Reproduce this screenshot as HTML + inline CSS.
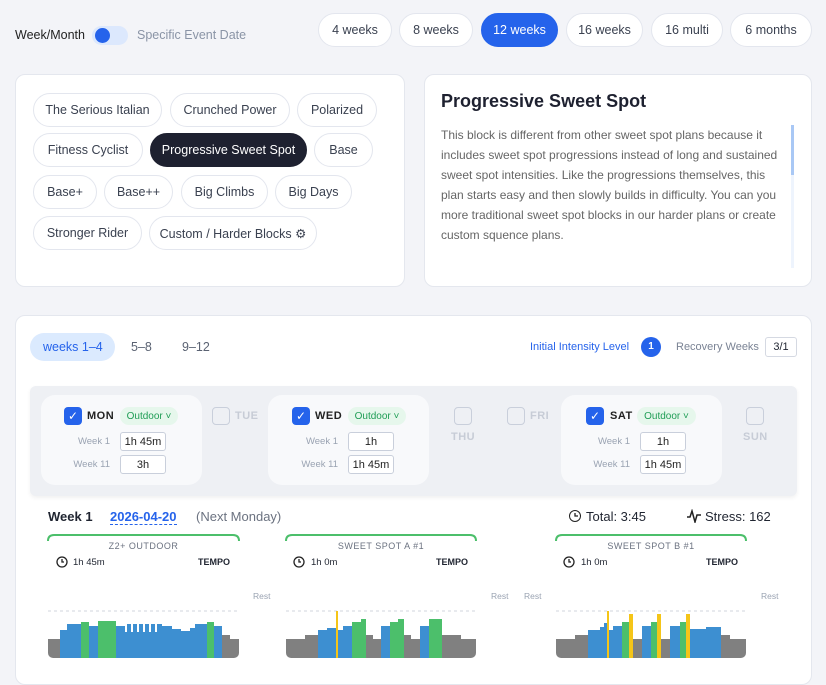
<!DOCTYPE html>
<html><head><meta charset="utf-8"><style>
*{box-sizing:border-box;margin:0;padding:0}
body{width:826px;height:667px;overflow:hidden;background:#f3f4f8;font-family:"Liberation Sans",sans-serif;position:relative;color:#1f2430}
.a{position:absolute;white-space:nowrap}
.pill{position:absolute;height:34px;border:1px solid #e3e6ee;background:#fff;border-radius:17px;font-size:12.5px;color:#3a4150;display:flex;align-items:center;justify-content:center}
.card{position:absolute;background:#fff;border:1px solid #e4e7ee;border-radius:10px}
.cb{position:absolute;width:18px;height:18px;border-radius:4px;background:#2563eb;color:#fff;font-size:12px;display:flex;align-items:center;justify-content:center}
.ucb{position:absolute;width:18px;height:18px;border-radius:4px;border:1.5px solid #c9cfdb;background:#eef0f4}
.day{position:absolute;background:#f8f9fb;border-radius:14px}
.out{position:absolute;height:18px;border-radius:9px;background:#e6f7ec;color:#1f9d55;font-size:10px;display:flex;align-items:center;justify-content:center}
.inp{position:absolute;height:19px;border:1px solid #c9cfdb;border-radius:3px;background:#fff;font-size:11px;display:flex;align-items:center;justify-content:center;color:#222}
.lbl{position:absolute;font-size:9.5px;color:#9aa3b2;text-align:right;width:50px}
.dn{position:absolute;font-size:11px;font-weight:bold;color:#222;letter-spacing:.5px}
.gd{position:absolute;font-size:11px;font-weight:bold;color:#c7ccd6;letter-spacing:.5px}
.wt{position:absolute;font-size:9px;color:#6b7280;letter-spacing:.5px;text-align:center}
.rest{position:absolute;font-size:8.5px;color:#9aa3b2}
</style></head><body>
<div class="a" style="left:15px;top:28px;font-size:12.5px;color:#222">Week/Month</div>
<div class="a" style="left:92px;top:26px;width:36px;height:19px;border-radius:10px;background:#dce8fd"></div>
<div class="a" style="left:95px;top:28px;width:15px;height:15px;border-radius:50%;background:#2563eb"></div>
<div class="a" style="left:137px;top:28px;font-size:12.5px;color:#8a94a6">Specific Event Date</div>
<div class="pill" style="left:318px;top:13px;width:74px">4 weeks</div>
<div class="pill" style="left:399px;top:13px;width:74px">8 weeks</div>
<div class="pill" style="left:481px;top:13px;width:77px;background:#2563eb;border-color:#2563eb;color:#fff">12 weeks</div>
<div class="pill" style="left:566px;top:13px;width:77px">16 weeks</div>
<div class="pill" style="left:651px;top:13px;width:72px">16 multi</div>
<div class="pill" style="left:730px;top:13px;width:82px">6 months</div>

<div class="card" style="left:15px;top:74px;width:390px;height:213px"></div>
<div class="pill" style="left:33px;top:93px;width:129px">The Serious Italian</div>
<div class="pill" style="left:170px;top:93px;width:120px">Crunched Power</div>
<div class="pill" style="left:297px;top:93px;width:80px">Polarized</div>
<div class="pill" style="left:33px;top:133px;width:110px">Fitness Cyclist</div>
<div class="pill" style="left:150px;top:133px;width:157px;background:#1e2130;border-color:#1e2130;color:#fff">Progressive Sweet Spot</div>
<div class="pill" style="left:314px;top:133px;width:59px">Base</div>
<div class="pill" style="left:33px;top:175px;width:64px">Base+</div>
<div class="pill" style="left:104px;top:175px;width:69px">Base++</div>
<div class="pill" style="left:181px;top:175px;width:87px">Big Climbs</div>
<div class="pill" style="left:275px;top:175px;width:77px">Big Days</div>
<div class="pill" style="left:33px;top:216px;width:109px">Stronger Rider</div>
<div class="pill" style="left:149px;top:216px;width:168px">Custom / Harder Blocks ⚙</div>

<div class="card" style="left:424px;top:74px;width:388px;height:213px"></div>
<div class="a" style="left:441px;top:91px;font-size:18px;font-weight:bold;color:#1e2130">Progressive Sweet Spot</div>
<div class="a" style="left:441px;top:125px;width:345px;white-space:normal;font-size:12px;line-height:20px;color:#666">This block is different from other sweet spot plans because it includes sweet spot progressions instead of long and sustained sweet spot intensities. Like the progressions themselves, this plan starts easy and then slowly builds in difficulty. You can you more traditional sweet spot blocks in our harder plans or create custom squence plans.</div>
<div class="a" style="left:791px;top:125px;width:3px;height:143px;background:#eef4fd"></div>
<div class="a" style="left:791px;top:125px;width:3px;height:50px;background:#a9c8f5"></div>

<div class="card" style="left:15px;top:315px;width:797px;height:370px"></div>
<div class="a" style="left:30px;top:333px;width:85px;height:28px;border-radius:14px;background:#dbeafe"></div>
<div class="a" style="left:43px;top:340px;font-size:12.5px;color:#2563eb">weeks 1–4</div>
<div class="a" style="left:131px;top:340px;font-size:12.5px;color:#5a6272">5–8</div>
<div class="a" style="left:182px;top:340px;font-size:12.5px;color:#5a6272">9–12</div>
<div class="a" style="left:530px;top:341px;font-size:11px;color:#2563eb">Initial Intensity Level</div>
<div class="a" style="left:641px;top:337px;width:20px;height:20px;border-radius:50%;background:#2563eb;color:#fff;font-size:10px;font-weight:bold;text-align:center;line-height:20px">1</div>
<div class="a" style="left:676px;top:341px;font-size:11px;color:#7a8394">Recovery Weeks</div>
<div class="a" style="left:765px;top:337px;width:32px;height:20px;border:1px solid #d5d9e2;border-radius:3px;font-size:11px;text-align:center;line-height:18px">3/1</div>

<div class="a" style="left:30px;top:386px;width:767px;height:110px;background:#eef0f4;border-radius:6px;box-shadow:0 2px 4px rgba(0,0,0,.06)"></div>
<div class="day" style="left:41px;top:395px;width:161px;height:90px"></div>
<div class="day" style="left:268px;top:395px;width:161px;height:90px"></div>
<div class="day" style="left:561px;top:395px;width:161px;height:90px"></div>

<div class="cb" style="left:64px;top:407px">✓</div><div class="dn" style="left:87px;top:410px">MON</div>
<div class="out" style="left:120px;top:407px;width:58px">Outdoor ˅</div>
<div class="lbl" style="left:60px;top:436px">Week 1</div><div class="inp" style="left:120px;top:432px;width:46px">1h 45m</div>
<div class="lbl" style="left:60px;top:459px">Week 11</div><div class="inp" style="left:120px;top:455px;width:46px">3h</div>

<div class="ucb" style="left:212px;top:407px"></div><div class="gd" style="left:235px;top:410px">TUE</div>

<div class="cb" style="left:292px;top:407px">✓</div><div class="dn" style="left:315px;top:410px">WED</div>
<div class="out" style="left:348px;top:407px;width:58px">Outdoor ˅</div>
<div class="lbl" style="left:288px;top:436px">Week 1</div><div class="inp" style="left:348px;top:432px;width:46px">1h</div>
<div class="lbl" style="left:288px;top:459px">Week 11</div><div class="inp" style="left:348px;top:455px;width:46px">1h 45m</div>

<div class="ucb" style="left:454px;top:407px"></div><div class="gd" style="left:451px;top:431px">THU</div>
<div class="ucb" style="left:507px;top:407px"></div><div class="gd" style="left:530px;top:410px">FRI</div>

<div class="cb" style="left:586px;top:407px">✓</div><div class="dn" style="left:610px;top:410px">SAT</div>
<div class="out" style="left:637px;top:407px;width:59px">Outdoor ˅</div>
<div class="lbl" style="left:580px;top:436px">Week 1</div><div class="inp" style="left:640px;top:432px;width:46px">1h</div>
<div class="lbl" style="left:580px;top:459px">Week 11</div><div class="inp" style="left:640px;top:455px;width:46px">1h 45m</div>

<div class="ucb" style="left:746px;top:407px"></div><div class="gd" style="left:743px;top:431px">SUN</div>

<div class="a" style="left:48px;top:509px;font-size:13px;font-weight:bold">Week 1</div>
<div class="a" style="left:110px;top:509px;font-size:13px;color:#2563eb;font-weight:bold;border-bottom:1px dashed #2563eb;line-height:15px">2026-04-20</div>
<div class="a" style="left:196px;top:509px;font-size:13px;color:#6b7280">(Next Monday)</div>
<div class="a" style="left:569px;top:510px;width:12px;height:12px;border:1.5px solid #222;border-radius:50%"></div>
<div class="a" style="left:586px;top:509px;font-size:13px">Total: 3:45</div>
<svg class="a" style="left:686px;top:509px" width="16" height="14"><polyline points="1,8 4,8 6,2 9,13 11,6 15,6" fill="none" stroke="#222" stroke-width="1.5"/></svg>
<div class="a" style="left:705px;top:509px;font-size:13px">Stress: 162</div>

<div class="wt" style="left:48px;top:541px;width:191px">Z2+ OUTDOOR</div>
<div class="wt" style="left:286px;top:541px;width:190px">SWEET SPOT A #1</div>
<div class="wt" style="left:556px;top:541px;width:190px">SWEET SPOT B #1</div>
<div class="a" style="left:73px;top:557px;font-size:9.5px">1h 45m</div>
<div class="a" style="left:311px;top:557px;font-size:9.5px">1h 0m</div>
<div class="a" style="left:581px;top:557px;font-size:9.5px">1h 0m</div>
<div class="a" style="left:198px;top:557px;font-size:9px;font-weight:bold">TEMPO</div>
<div class="a" style="left:436px;top:557px;font-size:9px;font-weight:bold">TEMPO</div>
<div class="a" style="left:706px;top:557px;font-size:9px;font-weight:bold">TEMPO</div>
<div class="rest" style="left:253px;top:591px">Rest</div>
<div class="rest" style="left:491px;top:591px">Rest</div>
<div class="rest" style="left:524px;top:591px">Rest</div>
<div class="rest" style="left:761px;top:591px">Rest</div>

<svg class="a" style="left:0;top:0" width="826" height="667">
<g fill="none" stroke="#4cbf6b" stroke-width="2">
<path d="M48,541 Q48,535 54,535 L233,535 Q239,535 239,541"/>
<path d="M286,541 Q286,535 292,535 L470,535 Q476,535 476,541"/>
<path d="M556,541 Q556,535 562,535 L740,535 Q746,535 746,541"/>
</g>
<g fill="none" stroke="#222" stroke-width="1.3">
<circle cx="62" cy="562" r="5"/><path d="M62,559 V562 H64"/>
<circle cx="299" cy="562" r="5"/><path d="M299,559 V562 H301"/>
<circle cx="569" cy="562" r="5"/><path d="M569,559 V562 H571"/>
<path d="M575,513 V516 H578"/>
</g>
<g stroke="#d0d4dc" stroke-dasharray="3,3"><line x1="48" y1="611" x2="239" y2="611"/><line x1="286" y1="611" x2="476" y2="611"/><line x1="556" y1="611" x2="746" y2="611"/></g>
<defs>
<clipPath id="c1"><rect x="48" y="600" width="191" height="58" rx="5"/></clipPath>
<clipPath id="c2"><rect x="286" y="600" width="190" height="58" rx="5"/></clipPath>
<clipPath id="c3"><rect x="556" y="600" width="190" height="58" rx="5"/></clipPath>
</defs>
<g clip-path="url(#c1)">
<rect x="48" y="639" width="12" height="30" fill="#808080"/>
<rect x="60" y="630" width="7" height="40" fill="#3d8fd1"/>
<rect x="67" y="624" width="14" height="40" fill="#3d8fd1"/>
<rect x="81" y="622" width="8" height="40" fill="#4cbf6b"/>
<rect x="89" y="626" width="9" height="40" fill="#3d8fd1"/>
<rect x="98" y="621" width="18" height="40" fill="#4cbf6b"/>
<rect x="116" y="626" width="9" height="40" fill="#3d8fd1"/>
<rect x="125" y="632" width="37" height="40" fill="#3d8fd1"/>
<rect x="127" y="624" width="4" height="10" fill="#3d8fd1"/><rect x="133" y="624" width="4" height="10" fill="#3d8fd1"/><rect x="139" y="624" width="4" height="10" fill="#3d8fd1"/><rect x="145" y="624" width="4" height="10" fill="#3d8fd1"/><rect x="151" y="624" width="4" height="10" fill="#3d8fd1"/><rect x="157" y="624" width="5" height="10" fill="#3d8fd1"/>
<rect x="162" y="626" width="10" height="40" fill="#3d8fd1"/>
<rect x="172" y="629" width="9" height="40" fill="#3d8fd1"/>
<rect x="181" y="631" width="9" height="40" fill="#3d8fd1"/>
<rect x="190" y="628" width="5" height="40" fill="#3d8fd1"/>
<rect x="195" y="624" width="12" height="40" fill="#3d8fd1"/>
<rect x="207" y="622" width="7" height="40" fill="#4cbf6b"/>
<rect x="214" y="626" width="8" height="40" fill="#3d8fd1"/>
<rect x="222" y="635" width="8" height="40" fill="#808080"/>
<rect x="230" y="639" width="9" height="40" fill="#808080"/>
</g>
<g clip-path="url(#c2)">
<rect x="286" y="639" width="19" height="30" fill="#808080"/>
<rect x="305" y="635" width="13" height="30" fill="#808080"/>
<rect x="318" y="630" width="9" height="40" fill="#3d8fd1"/>
<rect x="327" y="628" width="9" height="40" fill="#3d8fd1"/>
<rect x="336" y="611" width="2" height="50" fill="#f5c518"/>
<rect x="338" y="630" width="5" height="40" fill="#3d8fd1"/>
<rect x="343" y="626" width="9" height="40" fill="#3d8fd1"/>
<rect x="352" y="622" width="9" height="40" fill="#4cbf6b"/>
<rect x="361" y="619" width="5" height="40" fill="#4cbf6b"/>
<rect x="366" y="635" width="7" height="40" fill="#808080"/>
<rect x="373" y="639" width="8" height="40" fill="#808080"/>
<rect x="381" y="626" width="9" height="40" fill="#3d8fd1"/>
<rect x="390" y="622" width="8" height="40" fill="#4cbf6b"/>
<rect x="398" y="619" width="6" height="40" fill="#4cbf6b"/>
<rect x="404" y="635" width="7" height="40" fill="#808080"/>
<rect x="411" y="639" width="9" height="40" fill="#808080"/>
<rect x="420" y="626" width="9" height="40" fill="#3d8fd1"/>
<rect x="429" y="619" width="13" height="40" fill="#4cbf6b"/>
<rect x="442" y="635" width="19" height="40" fill="#808080"/>
<rect x="461" y="639" width="15" height="40" fill="#808080"/>
</g>
<g clip-path="url(#c3)">
<rect x="556" y="639" width="19" height="30" fill="#808080"/>
<rect x="575" y="635" width="13" height="30" fill="#808080"/>
<rect x="588" y="630" width="12" height="40" fill="#3d8fd1"/>
<rect x="600" y="627" width="4" height="40" fill="#3d8fd1"/>
<rect x="604" y="623" width="3" height="40" fill="#3d8fd1"/>
<rect x="607" y="611" width="2" height="50" fill="#f5c518"/>
<rect x="609" y="630" width="4" height="40" fill="#3d8fd1"/>
<rect x="613" y="626" width="9" height="40" fill="#3d8fd1"/>
<rect x="622" y="622" width="7" height="40" fill="#4cbf6b"/>
<rect x="629" y="614" width="4" height="50" fill="#f5c518"/>
<rect x="633" y="639" width="9" height="40" fill="#808080"/>
<rect x="642" y="626" width="9" height="40" fill="#3d8fd1"/>
<rect x="651" y="622" width="6" height="40" fill="#4cbf6b"/>
<rect x="657" y="614" width="4" height="50" fill="#f5c518"/>
<rect x="661" y="639" width="9" height="40" fill="#808080"/>
<rect x="670" y="626" width="10" height="40" fill="#3d8fd1"/>
<rect x="680" y="622" width="6" height="40" fill="#4cbf6b"/>
<rect x="686" y="614" width="4" height="50" fill="#f5c518"/>
<rect x="690" y="629" width="16" height="40" fill="#3d8fd1"/>
<rect x="706" y="627" width="15" height="40" fill="#3d8fd1"/>
<rect x="721" y="635" width="9" height="40" fill="#808080"/>
<rect x="730" y="639" width="16" height="40" fill="#808080"/>
</g>
</svg>
</body></html>
